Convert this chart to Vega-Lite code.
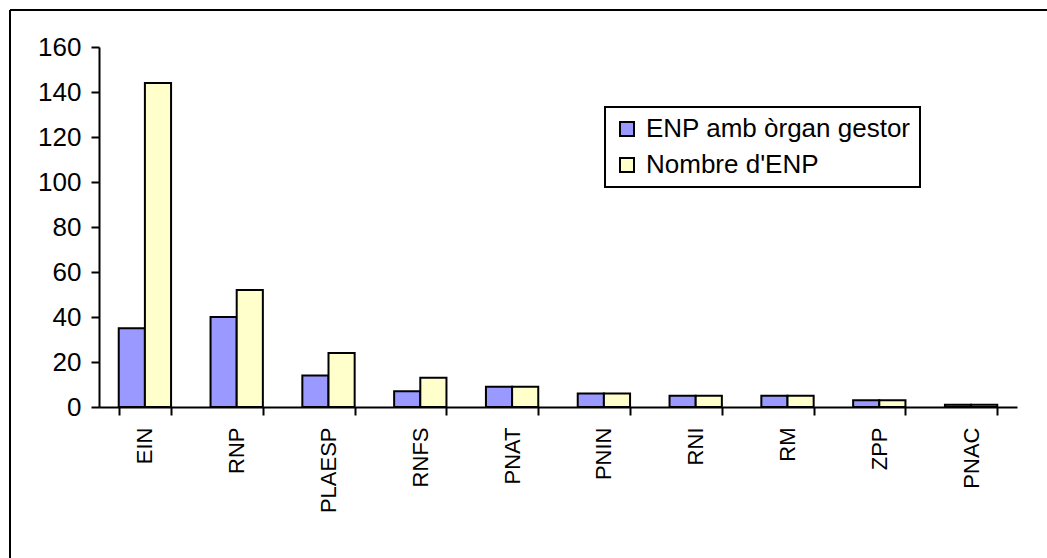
{
  "$schema": "https://vega.github.io/schema/vega-lite/v6.json",
  "width": 1037,
  "height": 548,
  "autosize": {"type": "none"},
  "padding": {"left": 10, "top": 10, "right": 0, "bottom": 0},
  "background": "white",
  "config": {
    "font": "Liberation Sans",
    "view": {"stroke": "black", "strokeWidth": 2, "strokeDash": [1037, 1585, 548, 0]},
    "axis": {
      "domainColor": "black", "tickColor": "black", "labelColor": "black",
      "grid": false, "domainWidth": 2, "tickWidth": 2, "tickSize": 8,
      "labelFontSize": 26, "labelFont": "Liberation Sans"
    },
    "legend": {"strokeWidth": 2}
  },
  "data": {
    "values": [
      {"zona": "EIN", "serie": "ENP amb òrgan gestor", "valor": 35},
      {"zona": "EIN", "serie": "Nombre d'ENP", "valor": 144},
      {"zona": "RNP", "serie": "ENP amb òrgan gestor", "valor": 40},
      {"zona": "RNP", "serie": "Nombre d'ENP", "valor": 52},
      {"zona": "PLAESP", "serie": "ENP amb òrgan gestor", "valor": 14},
      {"zona": "PLAESP", "serie": "Nombre d'ENP", "valor": 24},
      {"zona": "RNFS", "serie": "ENP amb òrgan gestor", "valor": 7},
      {"zona": "RNFS", "serie": "Nombre d'ENP", "valor": 13},
      {"zona": "PNAT", "serie": "ENP amb òrgan gestor", "valor": 9},
      {"zona": "PNAT", "serie": "Nombre d'ENP", "valor": 9},
      {"zona": "PNIN", "serie": "ENP amb òrgan gestor", "valor": 6},
      {"zona": "PNIN", "serie": "Nombre d'ENP", "valor": 6},
      {"zona": "RNI", "serie": "ENP amb òrgan gestor", "valor": 5},
      {"zona": "RNI", "serie": "Nombre d'ENP", "valor": 5},
      {"zona": "RM", "serie": "ENP amb òrgan gestor", "valor": 5},
      {"zona": "RM", "serie": "Nombre d'ENP", "valor": 5},
      {"zona": "ZPP", "serie": "ENP amb òrgan gestor", "valor": 3},
      {"zona": "ZPP", "serie": "Nombre d'ENP", "valor": 3},
      {"zona": "PNAC", "serie": "ENP amb òrgan gestor", "valor": 1},
      {"zona": "PNAC", "serie": "Nombre d'ENP", "valor": 1}
    ]
  },
  "mark": {"type": "bar", "stroke": "black", "strokeWidth": 2},
  "encoding": {
    "x": {
      "field": "zona", "type": "nominal", "sort": null,
      "scale": {"range": [89, 1007], "paddingInner": 0.43, "paddingOuter": 0.215},
      "axis": {
        "title": null, "labelAngle": -90, "labelAlign": "right", "labelBaseline": "middle",
        "tickBand": "extent", "offset": -151, "labelPadding": 12, "labelFontSize": 22
      }
    },
    "xOffset": {
      "field": "serie", "type": "nominal", "sort": null,
      "scale": {"paddingInner": 0, "paddingOuter": 0}
    },
    "y": {
      "field": "valor", "type": "quantitative",
      "scale": {"domain": [0, 160], "range": [397, 37], "nice": false, "zero": true},
      "axis": {
        "title": null, "values": [0, 20, 40, 60, 80, 100, 120, 140, 160],
        "offset": -89, "labelPadding": 10
      }
    },
    "color": {
      "field": "serie", "type": "nominal", "sort": null,
      "scale": {"domain": ["ENP amb òrgan gestor", "Nombre d'ENP"], "range": ["#9999FF", "#FFFFCC"]},
      "legend": {
        "title": null, "orient": "none", "legendX": 595, "legendY": 97,
        "strokeColor": "black", "fillColor": "white", "padding": 9,
        "symbolType": "square", "symbolSize": 196,
        "symbolStrokeColor": "black", "symbolStrokeWidth": 2,
        "labelFontSize": 26, "labelColor": "black", "labelLimit": 500,
        "rowPadding": 10, "labelOffset": 6
      }
    }
  }
}
